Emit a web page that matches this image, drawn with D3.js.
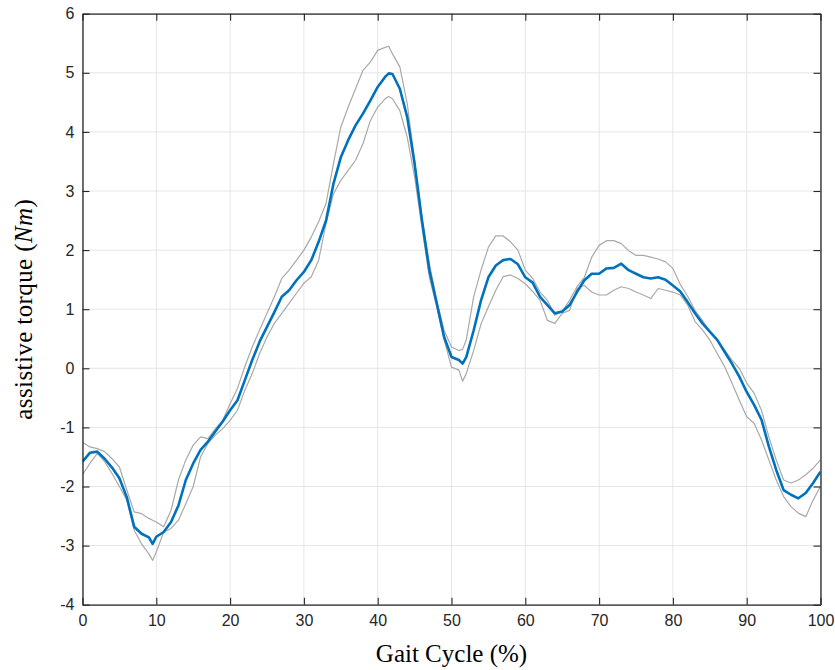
<!DOCTYPE html>
<html>
<head>
<meta charset="utf-8">
<script src="https://cdn.jsdelivr.net/npm/d3@7"></script>
<style>
  html, body { margin: 0; padding: 0; background: #fff; }
  svg { display: block; }
</style>
</head>
<body>
<svg id="chart" width="835" height="670"></svg>
<script>
// ---- data ----
const gaitPct = [0,1,2,3,4,5,6,7,8,9,9.5,10,11,12,13,14,15,16,17,18,19,20,
  21,22,23,24,25,26,27,28,29,30,31,32,33,34,35,36,37,38,39,40,41,41.5,42,43,44,45,46,47,48,49,50,
  51,51.5,52,53,54,55,56,57,58,59,60,61,62,63,64,65,66,67,68,69,70,71,72,73,74,75,76,77,78,79,80,
  81,82,83,84,85,86,87,88,89,90,91,92,93,94,95,96,97,98,99,100];

const meanTorque = [-1.58,-1.43,-1.41,-1.53,-1.68,-1.86,-2.18,-2.68,-2.80,-2.86,-2.97,-2.85,-2.77,-2.60,-2.32,-1.89,-1.61,-1.38,-1.24,-1.07,-0.90,-0.71,
  -0.54,-0.20,0.14,0.45,0.70,0.95,1.21,1.32,1.49,1.63,1.83,2.14,2.50,3.12,3.57,3.86,4.11,4.31,4.53,4.76,4.93,4.99,4.98,4.73,4.25,3.46,2.50,1.66,1.10,0.53,0.19,
  0.14,0.08,0.19,0.64,1.15,1.54,1.74,1.83,1.85,1.76,1.54,1.45,1.21,1.07,0.93,0.96,1.07,1.29,1.49,1.60,1.60,1.69,1.70,1.77,1.66,1.60,1.54,1.52,1.54,1.50,1.40,
  1.30,1.12,0.93,0.76,0.62,0.48,0.28,0.08,-0.14,-0.40,-0.62,-0.87,-1.32,-1.72,-2.06,-2.14,-2.20,-2.11,-1.94,-1.75];

const upperTorque = [-1.25,-1.33,-1.36,-1.41,-1.53,-1.67,-2.06,-2.43,-2.46,-2.54,-2.57,-2.60,-2.68,-2.40,-1.89,-1.55,-1.30,-1.16,-1.19,-1.02,-0.88,-0.60,
  -0.34,0.03,0.36,0.65,0.93,1.21,1.52,1.66,1.83,2.00,2.22,2.48,2.79,3.46,4.08,4.42,4.73,5.04,5.18,5.38,5.43,5.45,5.32,5.10,4.48,3.52,2.55,1.77,1.15,0.64,0.36,
  0.30,0.32,0.48,1.21,1.66,2.05,2.24,2.24,2.14,2.00,1.66,1.52,1.29,1.15,0.90,0.96,1.15,1.38,1.54,1.88,2.08,2.16,2.16,2.11,1.99,1.91,1.91,1.88,1.85,1.80,1.69,
  1.42,1.22,0.98,0.81,0.62,0.48,0.31,0.14,0.00,-0.25,-0.42,-0.71,-1.16,-1.55,-1.89,-1.94,-1.89,-1.80,-1.69,-1.55];

const lowerTorque = [-1.80,-1.61,-1.44,-1.58,-1.78,-2.00,-2.23,-2.74,-2.97,-3.14,-3.25,-3.11,-2.77,-2.71,-2.57,-2.29,-2.00,-1.50,-1.27,-1.13,-1.02,-0.88,
  -0.71,-0.37,-0.09,0.25,0.53,0.76,0.93,1.10,1.27,1.44,1.55,1.83,2.45,2.95,3.18,3.35,3.52,3.80,4.19,4.42,4.56,4.60,4.56,4.36,3.91,3.24,2.38,1.54,1.04,0.48,0.02,
  -0.03,-0.22,-0.09,0.30,0.75,1.04,1.32,1.55,1.58,1.52,1.43,1.30,1.15,0.81,0.76,0.93,0.98,1.35,1.40,1.29,1.24,1.24,1.32,1.38,1.35,1.29,1.24,1.18,1.35,1.32,1.29,
  1.24,1.07,0.79,0.65,0.48,0.25,0.03,-0.25,-0.54,-0.82,-0.93,-1.21,-1.55,-1.89,-2.17,-2.34,-2.45,-2.51,-2.23,-2.00];

const xTicks = [0,10,20,30,40,50,60,70,80,90,100];
const yTicks = [-4,-3,-2,-1,0,1,2,3,4,5,6];
const xLabel = "Gait Cycle (%)";
const yLabelMain = "assistive torque (";
const yLabelUnit = "Nm";

// ---- layout ----
const L = 82.5, R = 820.5, T = 13.7, B = 604.7;
const svg = d3.select("#chart");
const x = d3.scaleLinear().domain([0, 100]).range([L, R]);
const y = d3.scaleLinear().domain([-4, 6]).range([B, T]);

const axisColor = "#262626";
const tickFont = "'Liberation Sans', Arial, sans-serif";
const serif = "'Liberation Serif', 'Times New Roman', serif";

// grid
const grid = svg.append("g");
grid.selectAll("line.gx").data(xTicks).join("line")
  .attr("x1", d => x(d)).attr("x2", d => x(d)).attr("y1", T).attr("y2", B)
  .attr("stroke", "#e5e5e5").attr("stroke-width", 1);
grid.selectAll("line.gy").data(yTicks).join("line")
  .attr("x1", L).attr("x2", R).attr("y1", d => y(d)).attr("y2", d => y(d))
  .attr("stroke", "#e5e5e5").attr("stroke-width", 1);

// series
const pts = arr => gaitPct.map((p, i) => [p, arr[i]]);
const line = d3.line().x(d => x(d[0])).y(d => y(d[1])).curve(d3.curveLinear);
svg.append("clipPath").attr("id", "clip").append("rect")
  .attr("x", L).attr("y", T).attr("width", R - L).attr("height", B - T);
const plot = svg.append("g").attr("clip-path", "url(#clip)");
plot.append("path").attr("d", line(pts(upperTorque))).attr("fill", "none")
  .attr("stroke", "#a9a9a9").attr("stroke-width", 1.2).attr("stroke-linejoin", "round");
plot.append("path").attr("d", line(pts(lowerTorque))).attr("fill", "none")
  .attr("stroke", "#a9a9a9").attr("stroke-width", 1.2).attr("stroke-linejoin", "round");
plot.append("path").attr("d", line(pts(meanTorque))).attr("fill", "none")
  .attr("stroke", "#0072BD").attr("stroke-width", 2.6).attr("stroke-linejoin", "round");

// axes (MATLAB style: box with inward ticks on all sides)
const tl = 7;
const fmt = d => String(d);
const axB = svg.append("g").attr("transform", `translate(0,${B})`)
  .call(d3.axisBottom(x).tickValues(xTicks).tickSizeInner(-tl).tickSizeOuter(0).tickPadding(10).tickFormat(fmt));
const axT = svg.append("g").attr("transform", `translate(0,${T})`)
  .call(d3.axisTop(x).tickValues(xTicks).tickSizeInner(-tl).tickSizeOuter(0).tickFormat(""));
const axL = svg.append("g").attr("transform", `translate(${L},0)`)
  .call(d3.axisLeft(y).tickValues(yTicks).tickSizeInner(-tl).tickSizeOuter(0).tickPadding(8).tickFormat(fmt));
const axR = svg.append("g").attr("transform", `translate(${R},0)`)
  .call(d3.axisRight(y).tickValues(yTicks).tickSizeInner(-tl).tickSizeOuter(0).tickFormat(""));

[axB, axT, axL, axR].forEach(a => {
  a.select(".domain").attr("stroke", axisColor).attr("stroke-width", 1.3);
  a.selectAll(".tick line").attr("stroke", axisColor).attr("stroke-width", 1.1);
  a.selectAll(".tick text").attr("fill", axisColor)
    .style("font-family", tickFont).style("font-size", "16px");
});
axB.selectAll(".tick text").attr("dy", "0.71em");

// axis labels
svg.append("text").attr("x", (L + R) / 2).attr("y", 662)
  .attr("text-anchor", "middle").attr("fill", "#000")
  .style("font-family", serif).style("font-size", "25px")
  .text(xLabel);

const yl = svg.append("text")
  .attr("transform", `translate(32,${(T + B) / 2}) rotate(-90)`)
  .attr("text-anchor", "middle").attr("fill", "#000")
  .style("font-family", serif).style("font-size", "25px")
  .style("letter-spacing", "0.4px");
yl.append("tspan").text(yLabelMain);
yl.append("tspan").style("font-style", "italic").text(yLabelUnit);
yl.append("tspan").text(")");
</script>
</body>
</html>
